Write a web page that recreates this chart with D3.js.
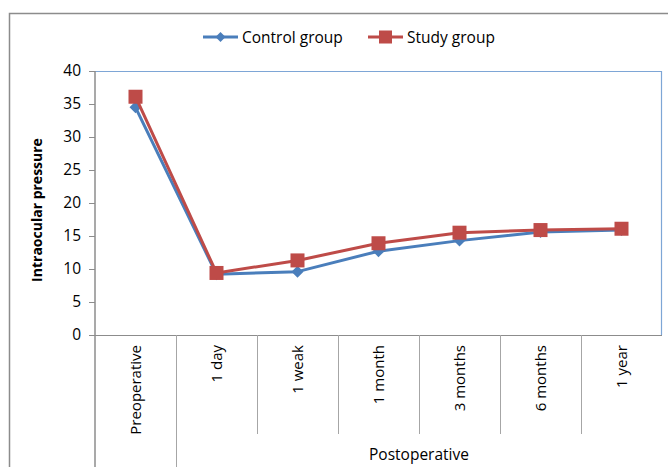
<!DOCTYPE html>
<html>
<head>
<meta charset="utf-8">
<script src="https://cdn.jsdelivr.net/npm/d3@7"></script>
<style>
  body { margin: 0; background: #fff; overflow: hidden; }
  svg { display: block; }
  text { font-family: "Open Sans", "Noto Sans", sans-serif; fill: #000; }
</style>
</head>
<body>
<div id="chart"></div>
<script>
const categories = ['Preoperative', '1 day', '1 weak', '1 month', '3 months', '6 months', '1 year']
const controlValues = [34.5, 9.2, 9.6, 12.7, 14.3, 15.6, 15.9]
const studyValues = [36.1, 9.4, 11.3, 13.9, 15.5, 15.9, 16.1]
const yTicks = [0, 5, 10, 15, 20, 25, 30, 35, 40]
const seriesNames = ['Control group', 'Study group']

let width = 668
let height = 467
let margin = {top: 71, right: 6, bottom: 132, left: 95}
let innerWidth = width - margin.left - margin.right
let innerHeight = height - margin.top - margin.bottom

const svg = d3.select('#chart').append('svg')
  .attr('width', width)
  .attr('height', height)

// outer frame (top + left only visible)
svg.append('path')
  .attr('d', 'M9.5,467 V13.5 H668')
  .attr('fill', 'none')
  .attr('stroke', '#8c8c8c')
  .attr('stroke-width', 1.5)

const g = svg.append('g').attr('transform', `translate(${margin.left},${margin.top})`)

let xScale = d3.scaleBand().domain(categories).range([0, innerWidth])
let yScale = d3.scaleLinear().domain([0, 40]).range([innerHeight, 0])

// plot area border (top + right)
g.append('path')
  .attr('d', `M0,0.5 H${innerWidth - 0.5} V${innerHeight}`)
  .attr('fill', 'none')
  .attr('stroke', '#7ea6d6')
  .attr('stroke-width', 1.2)

// y axis
let yAxis = d3.axisLeft(yScale).tickValues(yTicks).tickSize(6).tickPadding(8)
let gY = g.append('g').call(yAxis)
gY.select('.domain').remove()
gY.selectAll('.tick line').attr('stroke', '#8c8c8c')
gY.selectAll('.tick text').attr('font-size', 15.5).attr('fill', '#000').attr('font-family', '"Open Sans", sans-serif')

// left axis line extends through the category area
g.append('line')
  .attr('x1', 0).attr('x2', 0)
  .attr('y1', 0).attr('y2', height - margin.top)
  .attr('stroke', '#8c8c8c').attr('stroke-width', 1.5)

// x baseline
g.append('line')
  .attr('x1', -6).attr('x2', innerWidth)
  .attr('y1', innerHeight + 0.5).attr('y2', innerHeight + 0.5)
  .attr('stroke', '#8c8c8c').attr('stroke-width', 1)

// category separators
categories.slice(1).forEach(function (c, i) {
  let x = Math.round(xScale(c)) + 0.5
  g.append('line')
    .attr('x1', x).attr('x2', x)
    .attr('y1', innerHeight)
    .attr('y2', i === 0 ? height - margin.top : innerHeight + 99)
    .attr('stroke', '#a6a6a6').attr('stroke-width', 1)
})

// category labels (rotated)
g.selectAll('.cat')
  .data(categories)
  .enter().append('text')
  .attr('class', 'cat')
  .attr('transform', d => `translate(${xScale(d) + xScale.bandwidth() / 2 + 5},${innerHeight + 10}) rotate(-90)`)
  .attr('text-anchor', 'end')
  .attr('font-size', 15)
  .text(d => d)

// group label
g.append('text')
  .attr('x', (xScale('1 day') + innerWidth) / 2)
  .attr('y', innerHeight + 125)
  .attr('text-anchor', 'middle')
  .attr('font-size', 15.5)
  .text('Postoperative')

// y axis title
svg.append('text')
  .attr('transform', `translate(42,${margin.top + innerHeight / 2 + 7}) rotate(-90)`)
  .attr('text-anchor', 'middle')
  .attr('font-size', 14)
  .attr('font-weight', 'bold')
  .text('Intraocular pressure')

let line = d3.line()
  .x((d, i) => xScale(categories[i]) + xScale.bandwidth() / 2)
  .y(d => yScale(d))

const colors = ['#4a7ebb', '#be4b48']

// control series
g.append('path')
  .datum(controlValues)
  .attr('d', line)
  .attr('fill', 'none')
  .attr('stroke', colors[0])
  .attr('stroke-width', 3)
  .attr('stroke-linejoin', 'round')

g.selectAll('.diamond')
  .data(controlValues)
  .enter().append('path')
  .attr('class', 'diamond')
  .attr('transform', (d, i) => `translate(${xScale(categories[i]) + xScale.bandwidth() / 2},${yScale(d)})`)
  .attr('d', 'M0,-6 L6,0 L0,6 L-6,0 Z')
  .attr('fill', colors[0])

// study series
g.append('path')
  .datum(studyValues)
  .attr('d', line)
  .attr('fill', 'none')
  .attr('stroke', colors[1])
  .attr('stroke-width', 3)
  .attr('stroke-linejoin', 'round')

g.selectAll('.square')
  .data(studyValues)
  .enter().append('rect')
  .attr('class', 'square')
  .attr('x', (d, i) => xScale(categories[i]) + xScale.bandwidth() / 2 - 7)
  .attr('y', d => yScale(d) - 7)
  .attr('width', 14)
  .attr('height', 14)
  .attr('fill', colors[1])

// legend
const legend = svg.append('g').attr('transform', 'translate(0,37)')
const legendX = [203, 368]
seriesNames.forEach(function (name, i) {
  let lg = legend.append('g').attr('transform', `translate(${legendX[i]},0)`)
  lg.append('line')
    .attr('x1', 0).attr('x2', 35)
    .attr('stroke', colors[i]).attr('stroke-width', 3)
  if (i === 0) {
    lg.append('path').attr('d', 'M17.5,-5 L22.5,0 L17.5,5 L12.5,0 Z').attr('fill', colors[i])
  } else {
    lg.append('rect').attr('x', 11).attr('y', -6.5).attr('width', 13).attr('height', 13).attr('fill', colors[i])
  }
  lg.append('text')
    .attr('x', 39).attr('y', 5.5)
    .attr('font-size', 15.5)
    .text(name)
})
</script>
</body>
</html>
